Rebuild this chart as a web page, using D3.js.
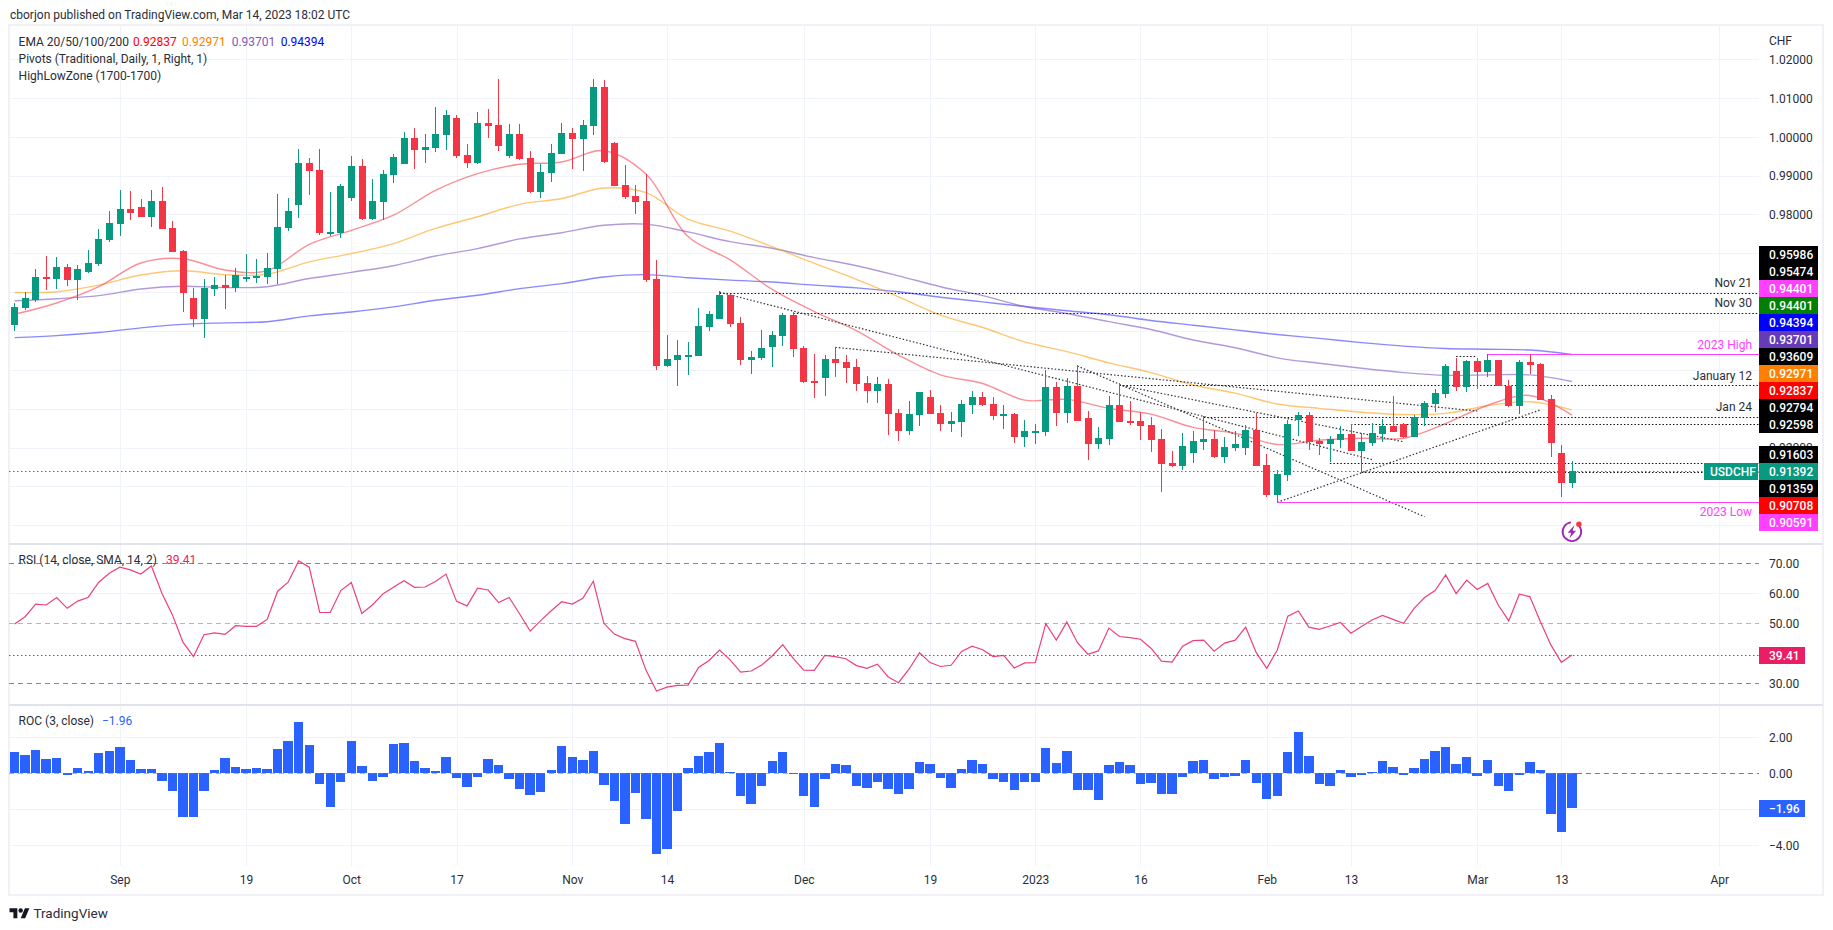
<!DOCTYPE html>
<html><head><meta charset="utf-8">
<script src="https://cdnjs.cloudflare.com/ajax/libs/d3/7.8.5/d3.min.js"></script>
<style>
html,body{margin:0;padding:0;background:#fff}
svg{display:block}
text{font-family:Roboto,"Liberation Sans",sans-serif;font-size:12px;fill:#2a2e39}
.domain{display:none}
</style></head><body>
<svg id="chart" width="1833" height="930"></svg>
<script>
const opens=[.9516,.9558,.9579,.9638,.9633,.9664,.9631,.9651,.9672,.9734,
.9775,.9814,.9819,.9793,.9834,.9765,.9705,.9584,.9530,.9608,
.9618,.9610,.9633,.9636,.9638,.9659,.9765,.9824,.9932,.9914,
.9752,.9752,.9842,.9924,.9788,.9832,.9901,.9929,.9996,.9965,
.9971,1.0004,1.0048,.9953,.9932,1.0035,1.0030,.9950,1.0007,.9945,
.9857,.9906,.9955,1.0009,.9994,1.0027,1.0128,.9983,.9876,.9847,
.9835,.9634,.9410,.9425,.9436,.9436,.9510,.9531,.9593,.9521,
.9425,.9431,.9459,.9487,.9541,.9456,.9371,.9379,.9428,.9420,
.9407,.9366,.9345,.9364,.9289,.9243,.9284,.9330,.9289,.9261,
.9266,.9309,.9330,.9312,.9281,.9286,.9227,.9240,.9240,.9356,
.9289,.9358,.9276,.9209,.9222,.9309,.9268,.9268,.9258,.9222,
.9160,.9152,.9186,.9214,.9222,.9176,.9199,.9199,.9245,.9155,
.9078,.9129,.9271,.9284,.9217,.9209,.9219,.9235,.9191,.9212,
.9235,.9255,.9261,.9227,.9276,.9312,.9338,.9397,.9356,.9423,
.9394,.9425,.9358,.9307,.9420,.9415,.9325,.9186,.9109];
const closes=[.9561,.9586,.9638,.9634,.9664,.9631,.9659,.9675,.9736,.9777,
.9814,.9803,.9793,.9834,.9762,.9703,.9597,.9530,.9610,.9618,
.9610,.9644,.9638,.9641,.9662,.9767,.9808,.9932,.9911,.9752,
.9754,.9873,.9924,.9788,.9834,.9904,.9947,.9996,.9965,.9973,
1.0007,1.0055,.9950,.9932,1.0035,1.0027,.9976,1.0007,.9942,.9857,
.9909,.9958,1.0009,.9994,1.0030,1.0128,.9934,.9873,.9845,.9832,
.9631,.9410,.9428,.9438,.9438,.9513,.9544,.9593,.9518,.9425,
.9433,.9456,.9490,.9541,.9454,.9369,.9366,.9428,.9418,.9405,
.9364,.9345,.9364,.9286,.9243,.9286,.9343,.9286,.9261,.9268,
.9312,.9330,.9309,.9281,.9286,.9227,.9243,.9243,.9356,.9289,
.9358,.9268,.9209,.9224,.9309,.9266,.9263,.9255,.9219,.9158,
.9152,.9204,.9217,.9222,.9176,.9201,.9209,.9245,.9153,.9078,
.9132,.9261,.9284,.9214,.9209,.9222,.9235,.9191,.9214,.9237,
.9255,.9240,.9227,.9279,.9315,.9340,.9410,.9356,.9423,.9394,
.9425,.9358,.9307,.9420,.9412,.9322,.9212,.9109,.91392];
const highs=[.9572,.9600,.9659,.9693,.9690,.9672,.9669,.9708,.9762,.9808,
.9862,.9860,.9839,.9862,.9870,.9783,.9708,.9610,.9633,.9638,
.9644,.9662,.9698,.9685,.9700,.9852,.9842,.9968,.9945,.9968,
.9857,.9878,.9950,.9942,.9891,.9914,.9955,1.0012,1.0022,1.0007,
1.0076,1.0068,1.0055,.9981,1.0063,1.0071,1.0148,1.0032,1.0032,.9963,
.9929,.9981,1.0035,1.0022,1.0043,1.0148,1.0146,.9986,.9927,.9876,
.9904,.9683,.9490,.9477,.9472,.9559,.9551,.9603,.9596,.9536,
.9448,.9503,.9500,.9546,.9549,.9461,.9441,.9438,.9459,.9438,
.9428,.9384,.9381,.9376,.9299,.9320,.9343,.9348,.9309,.9291,
.9322,.9345,.9343,.9330,.9309,.9289,.9271,.9261,.9400,.9369,
.9379,.9412,.9294,.9253,.9333,.9366,.9320,.9291,.9279,.9248,
.9191,.9237,.9243,.9281,.9245,.9227,.9243,.9258,.9289,.9183,
.9142,.9271,.9292,.9292,.9225,.9230,.9255,.9261,.9237,.9263,
.9274,.9333,.9263,.9284,.9320,.9351,.9415,.9430,.9425,.9430,
.94401,.9425,.9374,.9425,.9440,.9418,.9335,.9207,.9165];
const lows=[.9500,.9555,.9575,.9605,.9608,.9615,.9581,.9649,.9667,.9729,
.9744,.9785,.9793,.9767,.9762,.9703,.9548,.9510,.9481,.9590,
.9556,.9600,.9626,.9623,.9620,.9620,.9757,.9790,.9850,.9747,
.9744,.9739,.9834,.9785,.9785,.9785,.9880,.9929,.9916,.9932,
.9960,.9965,.9945,.9919,.9929,.9996,.9963,.9945,.9940,.9855,
.9842,.9883,.9955,.9916,.9911,1.0004,.9932,.9873,.9840,.9801,
.9626,.9400,.9407,.9358,.9387,.9436,.9500,.9531,.9510,.9412,
.9389,.9425,.9407,.9461,.9433,.9366,.9327,.9333,.9381,.9366,
.9345,.9315,.9315,.9232,.9217,.9232,.9255,.9286,.9243,.9240,
.9227,.9286,.9307,.9271,.9248,.9212,.9201,.9209,.9230,.9255,
.9263,.9268,.9168,.9196,.9206,.9266,.9258,.9219,.9189,.9086,
.9150,.9142,.9160,.9194,.9173,.9160,.9191,.9182,.9153,.9073,
.90591,.9114,.9230,.9194,.9181,.9163,.9199,.9191,.9137,.9204,
.9214,.9240,.9225,.9227,.9255,.9292,.9328,.9346,.9343,.9351,
.9382,.9358,.9304,.9286,.9389,.9322,.9176,.9073,.9096];

// moving averages, read at every fourth bar
const emaBars=[0,4,8,12,16,20,24,28,32,36,40,44,48,52,56,60,64,68,72,76,80,84,88,92,96,100,104,108,112,116,120,124,128,132,136,140,144,148];
const ema20=[.9543,.9572,.9614,.9675,.9686,.9657,.9655,.9723,.9759,.9798,.9862,.9905,.9929,.9935,.9964,.9904,.9743,.9683,.9607,.9550,.9501,.9438,.9387,.9365,.9322,.9324,.9301,.9286,.9252,.9237,.9208,.9219,.9224,.9224,.9262,.9309,.9334,.92837];
const ema50=[.9599,.9601,.9618,.9644,.9655,.9645,.9646,.9678,.9699,.9725,.9764,.9794,.9826,.9841,.9868,.9856,.9788,.9757,.9717,.9674,.9633,.9588,.9541,.9509,.9472,.9447,.9418,.9393,.9361,.9340,.9312,.9301,.9291,.9285,.9288,.9308,.9318,.92971];
const ema100=[.9578,.9583,.9591,.9608,.9615,.9612,.9614,.9635,.9651,.9668,.9693,.9712,.9737,.9753,.9772,.9775,.9755,.9730,.9713,.9689,.9668,.9642,.9614,.9591,.9563,.9545,.9524,.9504,.9477,.9457,.9431,.9417,.9404,.9393,.9386,.9387,.9387,.93701];
const ema200=[.9483,.9488,.9496,.9508,.9517,.9521,.9524,.9539,.9549,.9562,.9579,.9592,.9609,.9622,.9639,.9645,.9637,.9631,.9626,.9618,.9611,.9601,.9587,.9575,.9563,.9552,.9542,.9527,.9515,.9503,.9491,.9481,.9470,.9461,.9455,.9453,.9451,.94394];

const rsi=[49.8,52.2,56.4,56.1,58.6,55.0,57.4,58.7,63.7,66.7,
68.7,67.8,66.4,69.1,60.0,52.8,43.7,38.9,46.2,46.8,
46.3,49.2,49.0,49.0,51.3,60.7,63.7,70.8,68.7,53.6,
53.6,60.9,63.6,53.3,56.1,59.8,62.0,64.2,62.0,62.1,
63.9,66.4,57.3,55.8,61.7,61.1,56.9,58.6,53.1,47.4,
50.9,54.2,57.2,56.4,58.3,64.0,50.0,46.4,44.9,44.0,
34.4,27.4,28.7,29.3,29.4,35.3,37.6,41.1,37.8,33.7,
34.1,36.1,39.1,42.9,38.3,34.4,34.3,39.3,38.9,38.2,
35.9,35.0,36.4,32.2,30.2,34.7,40.2,36.9,35.6,36.0,
40.6,42.4,41.2,38.9,39.3,35.1,36.8,36.9,49.9,44.4,
50.4,43.6,39.7,40.8,48.4,45.6,45.2,44.7,41.7,37.4,
37.1,42.4,44.2,44.4,40.7,43.4,44.4,48.7,40.2,35.0,
41.1,52.4,54.1,48.7,48.0,49.1,50.3,46.7,48.9,51.1,
52.6,51.3,50.0,55.0,58.6,60.9,66.1,59.9,64.4,61.3,
63.3,56.1,50.8,59.7,58.9,50.6,42.8,37.0,39.41];
const roc=[1.17,1.0,1.28,.78,.83,-.11,.28,.11,1.11,1.22,
1.44,.72,.22,.22,-.44,-1.0,-2.44,-2.44,-1.0,.17,
.83,.33,.22,.28,.22,1.33,1.78,2.83,1.56,-.61,
-1.89,-.5,1.78,.39,-.44,-.22,1.61,1.67,.67,.28,
.11,.89,-.28,-.78,-.22,.78,.44,-.33,-.89,-1.22,
-1.06,.17,1.5,.89,.72,1.22,-.67,-1.56,-2.83,-1.11,
-2.56,-4.5,-4.22,-2.11,.28,.94,1.17,1.67,.06,-1.28,
-1.72,-.72,.67,1.17,.02,-1.28,-1.89,-.33,.5,.44,
-.72,-.83,-.5,-.89,-1.17,-.89,.61,.5,-.28,-.83,
.22,.72,.5,-.33,-.5,-.94,-.5,-.5,1.39,.56,
1.22,-.94,-.94,-1.5,.44,.61,.44,-.61,-.56,-1.17,
-1.17,-.22,.67,.72,-.33,-.22,-.17,.72,-.56,-1.44,
-1.28,1.17,2.28,.94,-.61,-.72,.17,-.22,-.11,.06,
.67,.33,-.11,.28,.78,1.22,1.44,.5,.89,-.17,
.72,-.72,-1.0,-.11,.61,.17,-2.28,-3.28,-1.96];

// time axis
const timeTickBars=[10,22,32,42,53,62,75,87,97,107,119,127,139,147,162];
const timeTickLabels=["Sep","19","Oct","17","Nov","14","Dec","19","2023","16","Feb","13","Mar","13","Apr"];
const priceGrid=[1.02,1.01,1.00,.99,.98,.97,.96,.95,.94,.93,.92,.91,.90];
const priceTicks=[1.02,1.01,1.00,.99,.98,.92];
const rsiTicks=[70,60,50,30];
const rocTicks=[2,0,-4];

// drawn levels and trend lines
const levelValues=[.95986,.95474,.93609,.92794,.92598,.91603,.91359,.9436];
const levelFromBar=[67,74,105,113,127,125,128,137];
const levelToBar=[null,null,null,null,null,null,null,139];
const trendFromBar=[67,78,101,105,120];
const trendFromPrice=[.9600,.9458,.9410,.93609,.90591];
const trendToBar=[129,139,134,132,145];
const trendToPrice=[.9169,.9294,.9022,.9215,.9297];
const zoneValues=[.94401,.90591];
const zoneFromBar=[140,120];
const noteTexts=["Nov 21","Nov 30","2023 High","January 12","Jan 24","2023 Low"];
const noteLevels=[.95986,.95474,.94401,.93609,.92794,.90591];
const noteColors=["#2a2e39","#2a2e39","#ff40ff","#2a2e39","#2a2e39","#ff40ff"];
const noteBelow=[false,false,false,false,false,true];

// right-hand price labels, stacked round one anchor per group
const labelValues=[[.95986,.95474,.94401,.94401,.94394,.93701,.93609,.92971,.92837,.92794,.92598],[.91603,.91392,.91359,.90708,.90591]];
const labelColors=[["#000","#000","#ff40ff","#008000","#0000ff","#673ab7","#000","#ff7f00","#ff0000","#000","#000"],["#000","#089981","#000","#ff0000","#ff40ff"]];
const labelAnchor=[10,1];

const W=1833,paneL=9,paneR=1759,frameR=1823,frameT=26,frameB=895,gridB=866;
const upC="#089981",downC="#f23645";
const x=d3.scaleLinear().domain([0,148]).range([14.6,1571.9]);
const price=d3.scaleLinear().domain([1.02,.90]).range([59,525.3]);
const rsiY=d3.scaleLinear().domain([70,30]).range([563.3,683.3]);
const rocY=d3.scaleLinear().domain([2,-4]).range([737.2,845.2]);
const svg=d3.select("#chart");

// frame and grid
const G=svg.append("g").attr("shape-rendering","crispEdges");
G.selectAll(".v").data(timeTickBars).join("line").attr("x1",d=>Math.round(x(d))+.5).attr("x2",d=>Math.round(x(d))+.5).attr("y1",frameT).attr("y2",gridB).attr("stroke","#f0f3fa");
function hgrid(vals,sc){G.selectAll(null).data(vals).join("line").attr("x1",paneL).attr("x2",paneR).attr("y1",d=>Math.round(sc(d))+.5).attr("y2",d=>Math.round(sc(d))+.5).attr("stroke","#f0f3fa");}
hgrid(priceGrid,price);hgrid([60],rsiY);hgrid([2,-2,-4],rocY);
G.append("rect").attr("x",paneL).attr("y",frameT-1).attr("width",frameR-paneL).attr("height",frameB-frameT+1).attr("fill","none").attr("stroke","#f0f0f6").attr("stroke-width",2);
[544,705].forEach(y=>G.append("line").attr("x1",paneL).attr("x2",frameR).attr("y1",y).attr("y2",y).attr("stroke","#e0e3eb").attr("stroke-width",1.5));

// EMAs
const emaLine=d3.line().x((d,k)=>x(emaBars[k])).y(d=>price(d)).curve(d3.curveCatmullRom.alpha(.5));
[[ema200,"#3a3aff",.6],[ema100,"#7e57c2",.6],[ema50,"#ff9800",.55],[ema20,"#f5404d",.58]].forEach(([s,c,o])=>{
 svg.append("path").attr("d",emaLine(s)).attr("fill","none").attr("stroke",c).attr("stroke-opacity",o).attr("stroke-width",1.4);
});

// dotted annotations
const dots="1.5 2";
const A=svg.append("g").attr("fill","none");
A.selectAll(".lvl").data(levelValues).join("line").attr("x1",(d,k)=>x(levelFromBar[k])).attr("x2",(d,k)=>levelToBar[k]==null?paneR:x(levelToBar[k])).attr("y1",d=>Math.round(price(d))+.5).attr("y2",d=>Math.round(price(d))+.5).attr("stroke","#111").attr("stroke-dasharray",dots);
A.selectAll(".tr").data(trendFromBar).join("line").attr("x1",d=>x(d)).attr("y1",(d,k)=>price(trendFromPrice[k])).attr("x2",(d,k)=>x(trendToBar[k])).attr("y2",(d,k)=>price(trendToPrice[k])).attr("stroke","#333").attr("stroke-width",1.2).attr("stroke-dasharray",dots);
A.selectAll(".zn").data(zoneValues).join("line").attr("x1",(d,k)=>x(zoneFromBar[k])).attr("x2",paneR).attr("y1",d=>Math.round(price(d))+.5).attr("y2",d=>Math.round(price(d))+.5).attr("stroke","#ff40ff").attr("stroke-width",1.2);
A.append("line").attr("x1",paneL).attr("x2",paneR).attr("y1",Math.round(price(.91392))+.5).attr("y2",Math.round(price(.91392))+.5).attr("stroke",upC).attr("stroke-dasharray","1.5 2.5");

// candles
const bars=d3.range(opens.length);
const C=svg.append("g").attr("shape-rendering","crispEdges");
const cx=i=>Math.floor(x(i)+.2);
C.selectAll(".w").data(bars).join("rect").attr("x",cx).attr("width",1).attr("y",i=>Math.round(price(highs[i]))).attr("height",i=>Math.max(1,Math.round(price(lows[i]))-Math.round(price(highs[i])))).attr("fill",i=>closes[i]>=opens[i]?upC:downC);
C.selectAll(".b").data(bars).join("rect").attr("x",i=>cx(i)-3).attr("width",7).attr("y",i=>Math.round(price(Math.max(opens[i],closes[i])))).attr("height",i=>Math.max(2,Math.round(price(Math.min(opens[i],closes[i])))-Math.round(price(Math.max(opens[i],closes[i]))))).attr("fill",i=>closes[i]>=opens[i]?upC:downC);

// RSI
const R=svg.append("g");
[[70,.9],[50,.55],[30,.9]].forEach(([v,o])=>R.append("line").attr("x1",paneL).attr("x2",paneR).attr("y1",Math.round(rsiY(v))+.5).attr("y2",Math.round(rsiY(v))+.5).attr("stroke","#787b86").attr("stroke-opacity",o).attr("stroke-dasharray","5 4"));
R.append("line").attr("x1",paneL).attr("x2",paneR).attr("y1",Math.round(rsiY(39.41))+.5).attr("y2",Math.round(rsiY(39.41))+.5).attr("stroke","#e91e63").attr("stroke-dasharray","1.5 2.5");
R.append("path").attr("d",d3.line().x((d,i)=>x(i)).y(d=>rsiY(d))(rsi)).attr("fill","none").attr("stroke","#e91e63").attr("stroke-opacity",.85).attr("stroke-width",1.2);

// ROC
const Q=svg.append("g").attr("shape-rendering","crispEdges");
Q.selectAll("rect").data(roc).join("rect").attr("x",(d,i)=>Math.round(x(i)-4.7)).attr("width",(d,i)=>Math.round(x(i)+4.7)-Math.round(x(i)-4.7)).attr("y",d=>Math.round(rocY(Math.max(d,0)))).attr("height",d=>Math.max(1,Math.round(Math.abs(rocY(d)-rocY(0))))).attr("fill","#2962ff");
svg.append("line").attr("x1",x(148)-4).attr("x2",paneR).attr("y1",Math.round(rocY(0))+.5).attr("y2",Math.round(rocY(0))+.5).attr("stroke","#787b86").attr("stroke-dasharray","5 4");
svg.append("line").attr("x1",paneL).attr("x2",x(148)).attr("y1",Math.round(rocY(0))+.5).attr("y2",Math.round(rocY(0))+.5).attr("stroke","#787b86").attr("stroke-opacity",.55).attr("stroke-dasharray","5 4");

// axes
const axisX=1769;
function rightAxis(sc,vals,fmt){const g=svg.append("g").attr("transform",`translate(${axisX},0.5)`).call(d3.axisRight(sc).tickValues(vals).tickFormat(fmt).tickSize(0).tickPadding(0));g.selectAll("text").style("font-size","12px").attr("fill","#2a2e39");}
rightAxis(price,priceTicks,d3.format(".5f"));
rightAxis(rsiY,rsiTicks,d3.format(".2f"));
rightAxis(rocY,rocTicks,d3.format(".2f"));
const tAxis=svg.append("g").attr("transform","translate(0,875)").call(d3.axisBottom(x).tickValues(timeTickBars).tickFormat((d,k)=>timeTickLabels[k]).tickSize(0).tickPadding(0));
tAxis.selectAll("text").style("font-size","12px").attr("fill","#2a2e39");

// price labels
const LH=17;
labelValues.forEach((grp,g)=>{
 const base=price(grp[labelAnchor[g]]);
 grp.forEach((v,k)=>{
  const yc=base+(k-labelAnchor[g])*LH;
  svg.append("rect").attr("x",paneR).attr("y",Math.round(yc-LH/2)).attr("width",59).attr("height",LH).attr("fill",labelColors[g][k]);
  svg.append("text").attr("x",axisX).attr("y",yc+.5).attr("dy",".36em").style("fill","#fff").style("font-weight",500).text(d3.format(".5f")(v));
 });
});
function tag(xa,w,yc,col,txt,tx){svg.append("rect").attr("x",xa).attr("y",Math.round(yc-LH/2)).attr("width",w).attr("height",LH).attr("fill",col);
 svg.append("text").attr("x",tx).attr("y",yc+.5).attr("dy",".36em").style("fill","#fff").style("font-weight",500).text(txt);}
tag(1704,54,price(.91392),upC,"USDCHF",1710);
tag(paneR,46,rsiY(39.41),"#e91e63","39.41",axisX);
tag(paneR,46,rocY(-1.96),"#2962ff","\u22121.96",axisX);

// notes over levels
svg.selectAll(".note").data(noteTexts).join("text").attr("x",1752).attr("y",(d,k)=>price(noteLevels[k])+(noteBelow[k]?9:-9.6)).attr("dy",".36em").attr("text-anchor","end").style("fill",(d,k)=>noteColors[k]).text(d=>d);

// header and legends
function txt(xa,yc,s,col,sz){return svg.append("text").attr("x",xa).attr("y",yc).attr("dy",".36em").style("fill",col||"#2a2e39").style("font-size",(sz||12)+"px").text(s);}
txt(10,14.7,"cborjon published on TradingView.com, Mar 14, 2023 18:02 UTC");
txt(axisX,40.7,"CHF");
txt(18.6,41.7,"EMA 20/50/100/200");
txt(133,41.7,"0.92837","#ff0000");txt(182,41.7,"0.92971","#ff7f00");txt(231.7,41.7,"0.93701","#7e57c2");txt(280.7,41.7,"0.94394","#0000ff");
txt(18.6,59,"Pivots (Traditional, Daily, 1, Right, 1)");
txt(18.6,76,"HighLowZone (1700-1700)");
txt(18.6,560,"RSI (14, close, SMA, 14, 2)");txt(166,560,"39.41","#e91e63");
txt(18.6,720.7,"ROC (3, close)");txt(102,720.7,"\u22121.96","#2962ff");
txt(33.5,912.7,"TradingView","#2a2e39",13.5);

// logo
const logo=svg.append("g").attr("transform","translate(9.5,906) scale(.56)").attr("fill","#131722");
logo.append("path").attr("d","M14 22H7V11H0V4h14v18zM28 22h-8l7.5-18h8L28 22z");
logo.append("circle").attr("cx",20).attr("cy",8).attr("r",4);

// flash icon
const fl=svg.append("g").attr("transform",`translate(${x(148)},531.7)`);
fl.append("path").attr("d",d3.arc()({innerRadius:8.4,outerRadius:10.2,startAngle:.95,endAngle:Math.PI*2-.1})).attr("fill","#9c27b0");
fl.append("path").attr("d","M2.5-6.5L-4.2 1H-.6L-2.5 6.5 4.2-1H.6Z").attr("fill","#9c27b0");
fl.append("circle").attr("cx",7).attr("cy",-7.4).attr("r",2.7).attr("fill","#f23645");
</script>
</body></html>
